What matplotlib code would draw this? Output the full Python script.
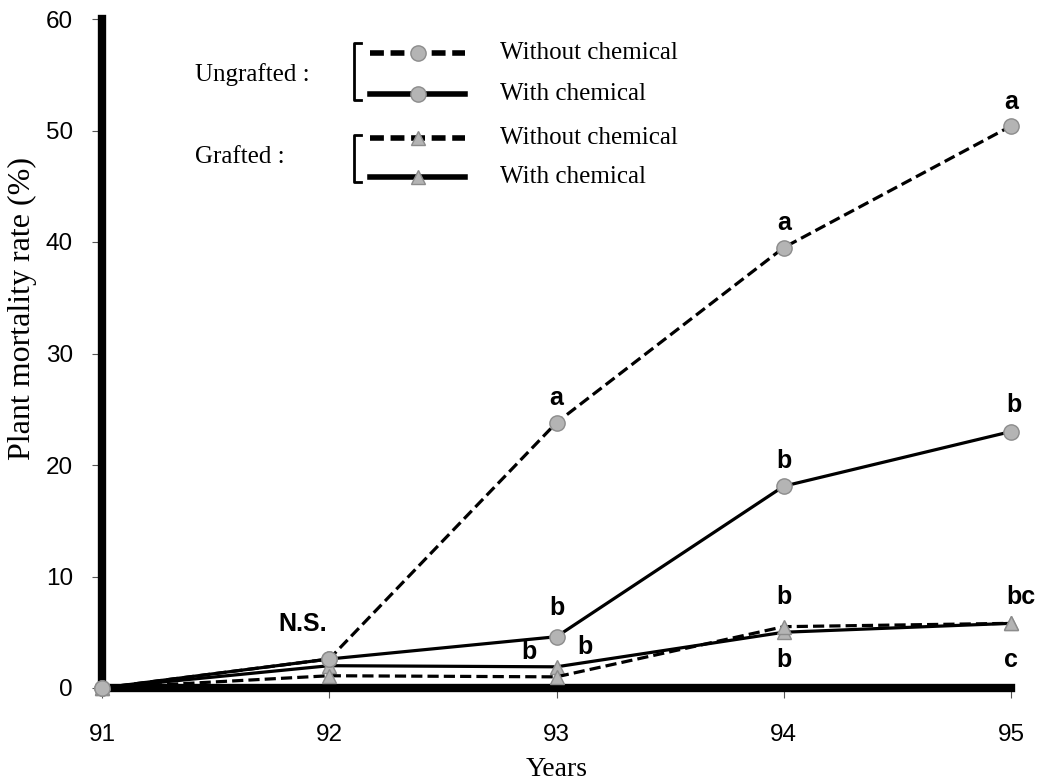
import numpy as np
import matplotlib
matplotlib.use("Agg")
import matplotlib.pyplot as plt
from matplotlib.lines import Line2D

# Data
years = [91, 92, 93, 94, 95]
ungraft_without = [0, 2.6, 23.8, 39.5, 50.4]
ungraft_with = [0, 2.6, 4.6, 18.1, 23.0]
graft_without = [0, 1.1, 1.0, 5.5, 5.8]
graft_with = [0, 2.0, 1.9, 5.0, 5.8]

# significance letters: (year, value, text, dx px, dy px)
letters = [
    (92, 2.6, "N.S.", -27, 35),
    (93, 23.8, "a", 0, 25),
    (94, 39.5, "a", 0, 25),
    (95, 50.4, "a", 0, 24),
    (93, 4.6, "b", 0, 29),
    (94, 18.1, "b", 0, 25),
    (95, 23.0, "b", 3, 27),
    (93, 1.9, "b", -28, 15),
    (93, 1.9, "b", 28, 20),
    (94, 5.5, "b", 0, 30),
    (94, 5.0, "b", 0, -28),
    (95, 5.8, "bc", 10, 26),
    (95, 5.8, "c", 0, -37),
]

W, H = 1047, 784
fig = plt.figure(figsize=(W / 100, H / 100), dpi=100)
ax = fig.add_axes([102 / W, 1 - 688 / H, (1011 - 102) / W, (688 - 19) / H])

mfc = "#b4b4b4"
mec = "#8c8c8c"
lw = 2.3
dash = (0, (3.5, 1.6))

ax.plot(years, graft_with, color="black", lw=lw, marker="^", ms=10,
        mfc=mfc, mec=mec, clip_on=False, zorder=3)
ax.plot(years, graft_without, color="black", lw=lw, ls=dash, marker="^", ms=10,
        mfc=mfc, mec=mec, clip_on=False, zorder=3)
ax.plot(years, ungraft_with, color="black", lw=lw, marker="o", ms=11,
        mfc=mfc, mec=mec, clip_on=False, zorder=4)
ax.plot(years, ungraft_without, color="black", lw=lw, ls=dash, marker="o", ms=11,
        mfc=mfc, mec=mec, clip_on=False, zorder=4)

for x, y, t, dx, dy in letters:
    ax.annotate(t, (x, y), xytext=(dx * 0.72, dy * 0.72), textcoords="offset points",
                ha="center", va="center", fontsize=18, fontweight="bold",
                family="Liberation Sans")

ax.set_xlim(91, 95)
ax.set_ylim(0, 60)
ax.set_xticks(years)
ax.set_yticks(range(0, 61, 10))
for s in ["top", "right"]:
    ax.spines[s].set_visible(False)
for s in ["left", "bottom"]:
    ax.spines[s].set_linewidth(6)
    ax.spines[s].set_zorder(2)
ax.tick_params(axis="both", direction="out", length=7, width=0.8, color="#555555",
               labelsize=17.5, pad=14)
ax.tick_params(axis="x", pad=19)
for lab in ax.get_xticklabels() + ax.get_yticklabels():
    lab.set_family("Liberation Sans")

ax.set_xlabel("Years", family="Liberation Serif", fontsize=20, labelpad=8)
ax.set_ylabel("Plant mortality rate (%)", family="Liberation Serif", fontsize=23)
ax.yaxis.set_label_coords(-0.072, 0.568)

# hand-made legend in pixel positions
def fx(x):
    return x / W

def fy(y):
    return 1 - y / H

serif = dict(family="Liberation Serif", fontsize=18, va="center")
fig.text(fx(195), fy(75), "Ungrafted :", **serif)
fig.text(fx(195), fy(157), "Grafted :", **serif)

entries = [
    (53, dash, "o", "Without chemical"),
    (94, "-", "o", "With chemical"),
    (138, dash, "^", "Without chemical"),
    (177, "-", "^", "With chemical"),
]
for y, ls, mk, label in entries:
    fig.add_artist(Line2D([fx(370), fx(465)], [fy(y), fy(y)], color="black",
                          lw=4, ls=ls if ls == "-" else (0, (2.5, 1.2))))
    fig.add_artist(Line2D([fx(418)], [fy(y)], marker=mk, ms=11 if mk == "o" else 10,
                          mfc=mfc, mec=mec, ls="none"))
    fig.text(fx(500), fy(y), label, **serif)

for top, bot in [(43, 100), (135, 182)]:
    fig.add_artist(Line2D([fx(361), fx(354), fx(354), fx(361)],
                          [fy(top), fy(top), fy(bot), fy(bot)], color="black", lw=2))

fig.savefig("out.png", dpi=100)
